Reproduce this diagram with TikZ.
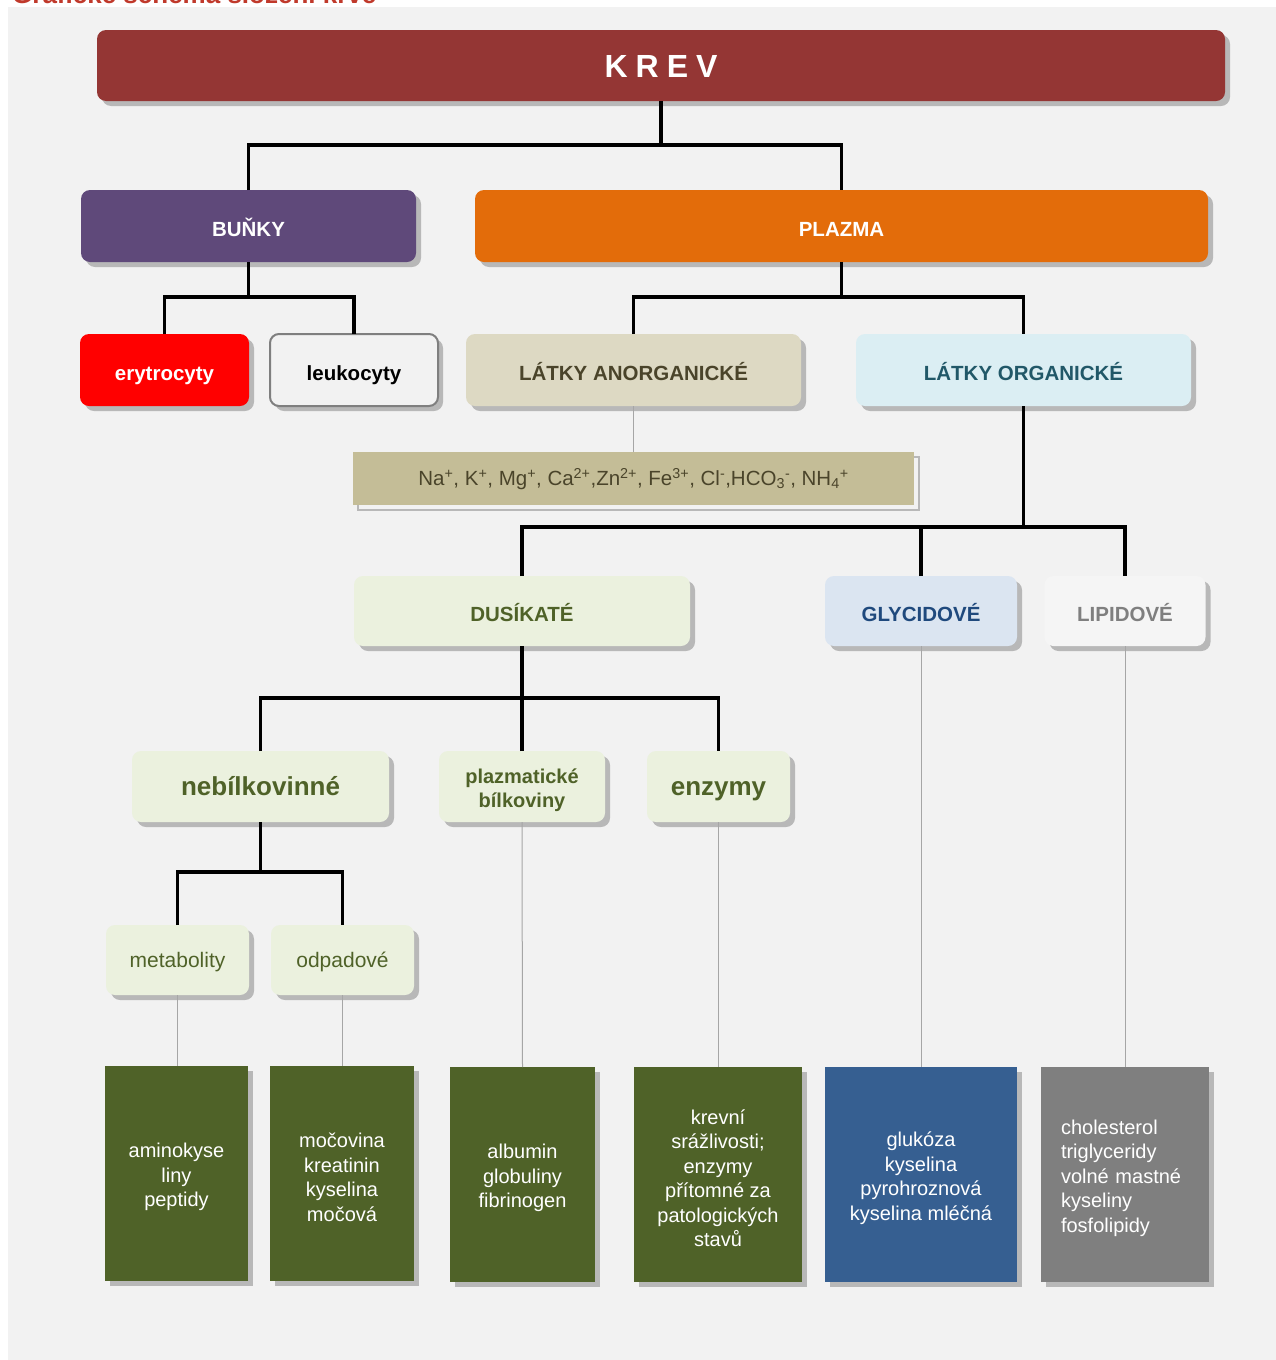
\documentclass[tikz,border=0pt]{standalone}
\usepackage{fontspec}
\setmainfont{Liberation Sans}
\usetikzlibrary{shadows}
\definecolor{panel}{HTML}{F2F2F2}
\definecolor{shd}{HTML}{B8B8B8}
\definecolor{krevc}{HTML}{943634}
\definecolor{bunkyc}{HTML}{5F497A}
\definecolor{plazc}{HTML}{E36C0A}
\definecolor{anorgc}{HTML}{DDD9C3}
\definecolor{anorgt}{HTML}{4A442A}
\definecolor{orgc}{HTML}{DBEEF3}
\definecolor{orgt}{HTML}{215868}
\definecolor{ionc}{HTML}{C4BD97}
\definecolor{lgreen}{HTML}{EBF1DE}
\definecolor{dgreen}{HTML}{4F6228}
\definecolor{glyc}{HTML}{DBE5F1}
\definecolor{glyt}{HTML}{1F497D}
\definecolor{lipc}{HTML}{F5F5F5}
\definecolor{greyt}{HTML}{7F7F7F}
\definecolor{dblue}{HTML}{365F91}
\definecolor{lgray}{HTML}{A6A6A6}
\definecolor{titlered}{HTML}{C0392B}
\newcommand{\pushdown}{\rule{0pt}{22pt}}
\tikzset{
  rbox/.style={rectangle, rounded corners=9pt, inner sep=0pt, outer sep=0pt, align=center,
    drop shadow={shadow xshift=5pt, shadow yshift=-5pt, fill=shd, opacity=1}},
  sbox/.style={rectangle, inner sep=0pt, outer sep=0pt, align=center, text=white,
    minimum height=215pt, font=\fontsize{20}{24.5}\selectfont,
    drop shadow={shadow xshift=5pt, shadow yshift=-5pt, fill=shd, opacity=1}},
  hdr/.style={font=\fontsize{20.5}{24}\selectfont\bfseries, text height=20pt, text depth=0pt},
  big/.style={font=\fontsize{26}{30}\selectfont\bfseries, text height=18.6pt, text depth=0pt},
  smalltxt/.style={font=\fontsize{21}{24}\selectfont, text height=15.5pt, text depth=0pt},
  tlink/.style={line width=3.5pt, draw=black},
  glink/.style={line width=1pt, draw=lgray},
}
\begin{document}
\begin{tikzpicture}[x=1pt,y=-1pt]
\useasboundingbox (0,0) rectangle (1276,1360);
\fill[white] (0,0) rectangle (1276,1360);
\fill[panel] (8,7) rectangle (1276,1360);
\node[anchor=base west, text=titlered, font=\fontsize{26}{30}\selectfont\bfseries, inner sep=0pt] (title) at (12,3) {Grafické schéma složení krve};

% level 0
\node[rbox, fill=krevc, text=white, minimum width=1128pt, minimum height=71pt,
  font=\fontsize{32}{36}\selectfont\bfseries, text height=24pt, text depth=0pt] (krev) at (661,65.5) {K\hspace{8pt}R\hspace{8pt}E\hspace{8pt}V};

% level 1
\node[rbox, hdr, fill=bunkyc, text=white, minimum width=335pt, minimum height=72pt] (bunky) at (248.5,226) {BUŇKY};
\node[rbox, hdr, fill=plazc, text=white, minimum width=733pt, minimum height=72pt] (plazma) at (841.5,226) {PLAZMA};

% level 2
\node[rbox, hdr, fill=red, text=white, minimum width=169pt, minimum height=72pt] (eryt) at (164.5,370) {erytrocyty};
\node[rbox, hdr, fill=panel, draw=greyt, line width=2pt, text=black, minimum width=168pt, minimum height=72pt] (leuk) at (354,370) {leukocyty};
\node[rbox, hdr, fill=anorgc, text=anorgt, minimum width=335pt, minimum height=72pt] (anorg) at (633.5,370) {LÁTKY ANORGANICKÉ};
\node[rbox, hdr, fill=orgc, text=orgt, minimum width=335pt, minimum height=72pt] (org) at (1023.5,370) {LÁTKY ORGANICKÉ};

\node[rectangle, inner sep=0pt, outer sep=0pt, fill=ionc, text=anorgt, minimum width=561pt, minimum height=53pt,
  font=\fontsize{20.5}{24}\selectfont, text height=14.7pt, text depth=0pt,
  drop shadow={shadow xshift=5pt, shadow yshift=-5pt, fill=panel, draw=shd, line width=2pt, opacity=1}] (ions) at (633.5,478.5)
  {Na\textsuperscript{+}, K\textsuperscript{+}, Mg\textsuperscript{+}, Ca\textsuperscript{2+},Zn\textsuperscript{2+}, Fe\textsuperscript{3+}, Cl\textsuperscript{-},HCO\textsubscript{3}\textsuperscript{-}, NH\textsubscript{4}\textsuperscript{+}};

% level 3
\node[rbox, hdr, fill=lgreen, text=dgreen, minimum width=336pt, minimum height=70pt] (dus) at (522,611) {DUSÍKATÉ};
\node[rbox, hdr, fill=glyc, text=glyt, minimum width=192pt, minimum height=70pt] (gly) at (921,611) {GLYCIDOVÉ};
\node[rbox, hdr, fill=lipc, text=greyt, minimum width=161pt, minimum height=70pt] (lip) at (1125,611) {LIPIDOVÉ};

% level 4
\node[rbox, big, fill=lgreen, text=dgreen, minimum width=257pt, minimum height=71pt] (neb) at (260.5,786.5) {nebílkovinné};
\node[rbox, fill=lgreen, text=dgreen, minimum width=166pt, minimum height=71pt,
  font=\fontsize{20}{24}\selectfont\bfseries] (plb) at (522,786.5) {\pushdown plazmatické\\bílkoviny};
\node[rbox, big, fill=lgreen, text=dgreen, minimum width=143pt, minimum height=71pt] (enz) at (718.5,786.5) {enzymy};

% level 5
\node[rbox, smalltxt, fill=lgreen, text=dgreen, minimum width=143pt, minimum height=70pt] (met) at (177.5,960) {metabolity};
\node[rbox, smalltxt, fill=lgreen, text=dgreen, minimum width=143pt, minimum height=70pt] (odp) at (342.5,960) {odpadové};

% bottom boxes
\node[sbox, fill=dgreen, minimum width=143pt] (b1) at (176.5,1173.5) {\pushdown aminokyse\\liny\\peptidy};
\node[sbox, fill=dgreen, minimum width=144pt] (b2) at (342,1173.5) {\pushdown močovina\\kreatinin\\kyselina\\močová};
\node[sbox, fill=dgreen, minimum width=145pt] (b3) at (522.5,1174.5) {\pushdown albumin\\globuliny\\fibrinogen};
\node[sbox, fill=dgreen, minimum width=168pt] (b4) at (718,1174.5) {\pushdown krevní\\srážlivosti;\\enzymy\\přítomné za\\patologických\\stavů};
\node[sbox, fill=dblue, minimum width=192pt] (b5) at (921,1174.5) {\pushdown glukóza\\kyselina\\pyrohroznová\\kyselina mléčná};
\node[sbox, fill=greyt, minimum width=168pt, text width=128pt, align=left] (b6) at (1125,1174.5) {\pushdown cholesterol\\triglyceridy\\volné mastné\\kyseliny\\fosfolipidy};

% thick connectors
\coordinate (j1) at (661,145);
\draw[tlink] (krev.south) -- (j1);
\draw[tlink] (bunky.north) |- (j1) -| (plazma.north);
\coordinate (j2) at (248.5,297);
\draw[tlink] (bunky.south) -- (j2);
\draw[tlink] (eryt.north) |- (j2) -| (leuk.north);
\coordinate (j3) at (841.5,297);
\draw[tlink] (plazma.south) -- (j3);
\draw[tlink] (anorg.north) |- (j3) -| (org.north);
\coordinate (j4) at (1023.5,527);
\draw[tlink] (org.south) -- (j4);
\draw[tlink] (dus.north) |- (j4) -| (lip.north);
\draw[tlink] (gly.north) -- (gly.north |- j4);
\coordinate (j5) at (522,698);
\draw[tlink] (dus.south) -- (j5);
\draw[tlink] (neb.north) |- (j5) -| (enz.north);
\draw[tlink] (plb.north) -- (j5);
\coordinate (j6) at (260.5,872);
\draw[tlink] (neb.south) -- (j6);
\draw[tlink] (met.north) |- (j6) -| (odp.north);

% thin connectors
\draw[glink] (anorg.south) -- (ions.north);
\draw[glink] (met.south) -- (met.south |- b1.north);
\draw[glink] (odp.south) -- (odp.south |- b2.north);
\draw[glink] (plb.south) -- (b3.north);
\draw[glink] (enz.south) -- (enz.south |- b4.north);
\draw[glink] (gly.south) -- (b5.north);
\draw[glink] (lip.south) -- (b6.north);
\end{tikzpicture}
\end{document}
